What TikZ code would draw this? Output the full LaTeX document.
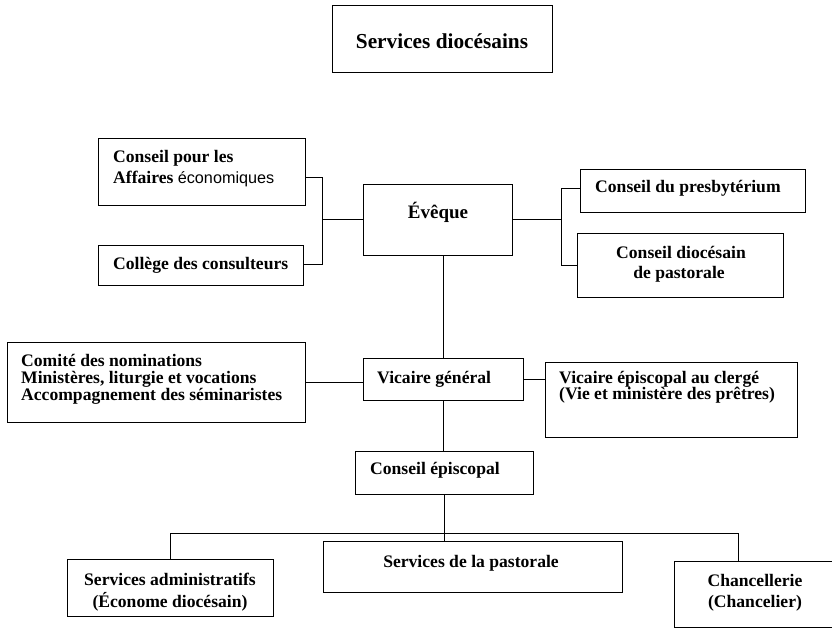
\documentclass[tikz,border=0pt]{standalone}
\usepackage{fontspec}
\setmainfont{Liberation Serif}
\newfontfamily\arialf{Liberation Sans}
\usetikzlibrary{fit}
\begin{document}
\begin{tikzpicture}[x=1bp,y=-1bp,
  box/.style={draw, line width=0.8bp, inner sep=0pt, fill=none},
  conn/.style={draw, line width=0.8bp},
  txt/.style={inner sep=0pt, font=\bfseries\fontsize{17.6bp}{17bp}\selectfont},
  bigtxt/.style={inner sep=0pt, font=\bfseries\fontsize{19bp}{19bp}\selectfont},
  titletxt/.style={inner sep=0pt, font=\bfseries\fontsize{21.3bp}{22bp}\selectfont}]
\useasboundingbox (0,0) rectangle (832,629);
\fill[white] (0,0) rectangle (832,629);

% boxes
\node[box, fit={(332,5) (552,72)}] (title) {};
\node[box, fit={(98,138) (305,205)}] (cpae) {};
\node[box, fit={(98,245) (303,285)}] (college) {};
\node[box, fit={(363,184) (512,255)}] (eveque) {};
\node[box, fit={(580,169) (805,212)}] (presb) {};
\node[box, fit={(577,233) (783,297)}] (cdp) {};
\node[box, fit={(7,342) (305,422)}] (comite) {};
\node[box, fit={(363,358) (523,400)}] (vg) {};
\node[box, fit={(545,362) (797,437)}] (vep) {};
\node[box, fit={(355,451) (533,494)}] (ce) {};
\node[box, fit={(67,559) (273,616)}] (sa) {};
\node[box, fit={(323,541) (622,592)}] (sp) {};
\node[box, fit={(674,561) (838,627)}] (chanc) {};

% texts
\node[titletxt, anchor=base] (t0) at (442,49) {Services diocésains};
\node[txt, anchor=base west] (t1) at (113,163) {Conseil pour les};
\node[txt, anchor=base west] (t2) at (113,184) {Affaires {\arialf\mdseries\fontsize{16.2bp}{17bp}\selectfont économiques}};
\node[txt, anchor=base west] (t3) at (113,269) {Collège des consulteurs};
\node[bigtxt, anchor=base] (t4) at (438,219) {Évêque};
\node[txt, anchor=base west] (t5) at (595,193) {Conseil du presbytérium};
\node[txt, anchor=base] (t6) at (681,258) {Conseil diocésain};
\node[txt, anchor=base] (t7) at (679,278) {de pastorale};
\node[txt, anchor=base west] (t8) at (21,366) {Comité des nominations};
\node[txt, anchor=base west] (t9) at (21,383) {Ministères, liturgie et vocations};
\node[txt, anchor=base west] (t10) at (21,400) {Accompagnement des séminaristes};
\node[txt, anchor=base west] (t11) at (377,383) {Vicaire général};
\node[txt, anchor=base west] (t12) at (559,383) {Vicaire épiscopal au clergé};
\node[txt, anchor=base west] (t13) at (559,399) {(Vie et ministère des prêtres)};
\node[txt, anchor=base west] (t14) at (370,474) {Conseil épiscopal};
\node[txt, anchor=base] (t15) at (471,567) {Services de la pastorale};
\node[txt, anchor=base] (t16) at (170,585) {Services administratifs};
\node[txt, anchor=base] (t17) at (170,607) {(Économe diocésain)};
\node[txt, anchor=base] (t18) at (755,586) {Chancellerie};
\node[txt, anchor=base] (t19) at (755,607) {(Chancelier)};

% junctions
\coordinate (jlt) at (322,177);
\coordinate (jlb) at (322,264);
\coordinate (jrt) at (561,188);
\coordinate (jrb) at (561,265);
\coordinate (bus) at (444,533);
\coordinate (br) at (738,533);

% connectors
\draw[conn] (cpae.east |- jlt) -- (jlt) -- (jlb) -- (college.east |- jlb);
\draw[conn] (jlt |- eveque.west) -- (eveque.west);
\draw[conn] (eveque.east) -- (eveque.east -| jrt);
\draw[conn] (presb.west |- jrt) -- (jrt) -- (jrb) -- (cdp.west |- jrb);
\draw[conn] (vg.north |- eveque.south) -- (vg.north);
\draw[conn] (comite.east) -- (comite.east -| vg.west);
\draw[conn] (vg.east) -- (vg.east -| vep.west);
\draw[conn] (vg.south) -- (vg.south |- ce.north);
\draw[conn] (ce.south) -- (ce.south |- sp.north);
\draw[conn] (sa.north) -- (sa.north |- bus) -- (br) -- (br |- chanc.north);
\end{tikzpicture}
\end{document}
